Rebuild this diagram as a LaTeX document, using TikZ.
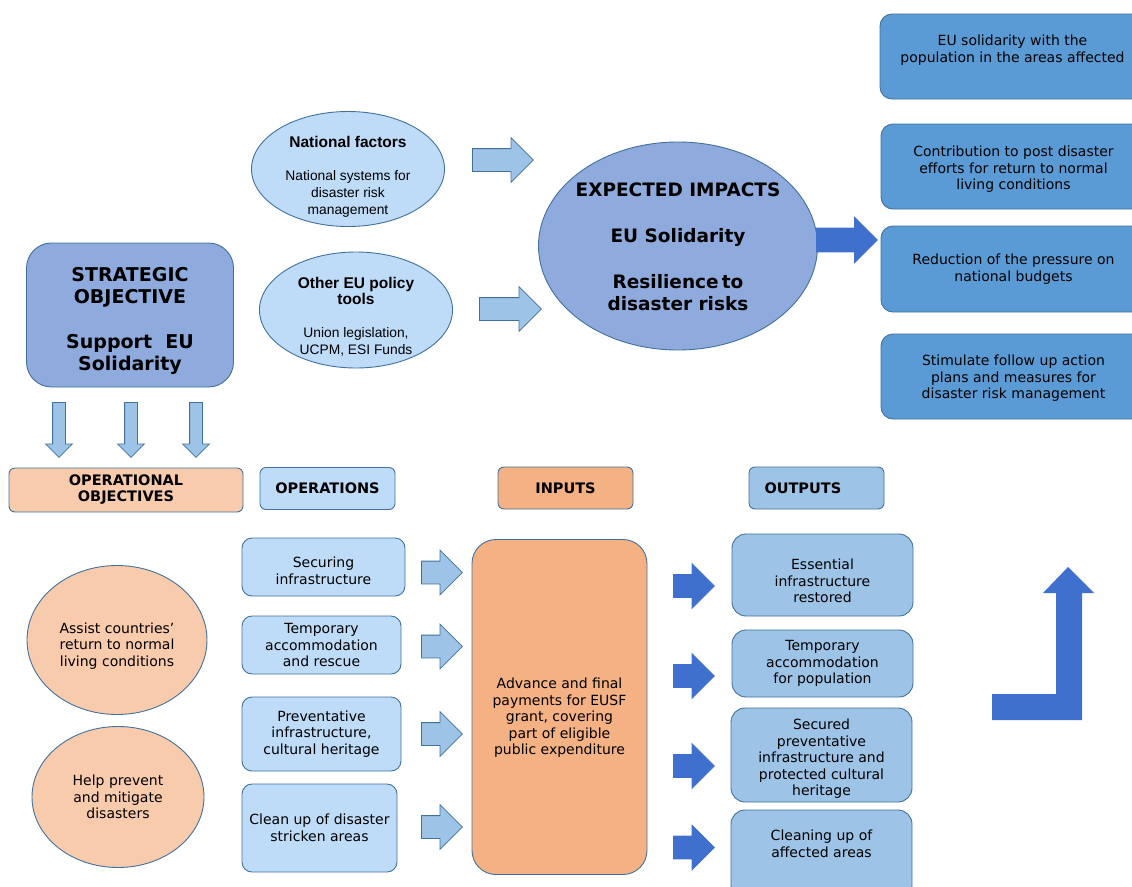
\documentclass[tikz,border=0pt]{standalone}
\usepackage{fontspec}
\setmainfont{DejaVu Sans}
\newfontfamily\arialfont{Liberation Sans}
\usetikzlibrary{shapes.geometric,shapes.arrows,positioning}
\definecolor{edgeblue}{RGB}{65,113,156}
\definecolor{stratblue}{RGB}{143,170,220}
\definecolor{paleblue}{RGB}{190,220,248}
\definecolor{arrowlight}{RGB}{157,195,230}
\definecolor{outblue}{RGB}{157,195,230}
\definecolor{impactbox}{RGB}{91,155,213}
\definecolor{darkarrow}{RGB}{64,112,206}
\definecolor{peach}{RGB}{248,203,173}
\definecolor{inputorange}{RGB}{244,177,131}
\newcommand{\bodysize}{\fontsize{14}{16.5}\selectfont}
\newcommand{\headsize}{\fontsize{14.5}{16}\selectfont\bfseries}
\newcommand{\bigsize}{\fontsize{19}{22.5}\selectfont\bfseries}
\newcommand{\factorhead}[1]{{\fontsize{15.5}{17}\selectfont\bfseries #1}}
\tikzset{
  box/.style={draw=edgeblue, line width=0.9pt, align=center, inner sep=2pt, font=\bodysize},
  roundbox/.style={box, rounded corners=10pt},
  opsbox/.style={roundbox, fill=paleblue},
  outbox/.style={roundbox, rounded corners=14pt, fill=outblue},
  impbox/.style={roundbox, rounded corners=12pt, fill=impactbox, minimum width=265, minimum height=85},
  headbox/.style={box, rounded corners=6pt, font=\headsize, minimum width=135, minimum height=42},
  oval/.style={ellipse, box, inner sep=0pt},
  factortext/.style={align=center, inner sep=0pt, font=\arialfont\fontsize{13.8}{17}\selectfont},
  larrow/.style={single arrow, draw=edgeblue, fill=arrowlight, line width=0.8pt,
    inner xsep=0pt, inner ysep=11pt, single arrow head extend=11pt,
    single arrow tip angle=90, minimum width=0pt, anchor=tail},
  darrow/.style={larrow, draw=darkarrow, fill=darkarrow},
  downarrow/.style={larrow, rotate=-90, inner ysep=6pt, single arrow head extend=7pt, minimum height=55}
}
\begin{document}
\begin{tikzpicture}[x=1pt,y=-1pt]
\useasboundingbox (0,0) rectangle (1132,886);
\clip (0,0) rectangle (1132,886);

% strategic objective
\node[roundbox, rounded corners=25pt, fill=stratblue, font=\bigsize, minimum width=207, minimum height=144] (strat) at (130,315)
  {\\[3.5pt]STRATEGIC\\OBJECTIVE\\[22pt]Support~~EU\\Solidarity};
\node[downarrow] (down1) at (59,402) {};
\node[downarrow] (down2) at (131,402) {};
\node[downarrow] (down3) at (196,402) {};

% factors
\node[oval, fill=paleblue, minimum width=193, minimum height=115] (national) at (348,169) {};
\node[factortext] (nattext) at (348,177)
  {\factorhead{National factors}\\[16pt]National systems for\\disaster risk\\management};
\node[oval, fill=paleblue, minimum width=193, minimum height=116] (otherEU) at (356,310) {};
\node[factortext] (othtext) at (356,317)
  {\factorhead{Other EU policy}\\[-1pt]\factorhead{tools}\\[16pt]Union legislation,\\UCPM, ESI Funds};
\node[larrow, minimum height=61] (natarrow) at (472,160) {};
\node[larrow, minimum height=62] (otharrow) at (479,309) {};

% expected impacts
\node[oval, fill=stratblue, minimum width=279, minimum height=208] (impacts) at (678,246) {};
\node[align=center, inner sep=0pt, font=\fontsize{18.5}{22}\selectfont\bfseries] (imptext) at (678,247)
  {EXPECTED IMPACTS\\[24pt]EU Solidarity\\[24pt]Resilience\,to\\disaster risks};
\node[darrow, inner ysep=11.5pt, minimum height=61] (imparrow) at (816,240) {};

\node[impbox] (imp1) at (1012.5,56.5) {EU solidarity with the\\population in the areas affected\\[-1pt]};
\node[impbox, minimum height=85] (imp2) at (1013.5,166.5) {\\[0pt]Contribution to post disaster\\efforts for return to normal\\living conditions};
\node[impbox, minimum height=86] (imp3) at (1013.5,269) {Reduction of the pressure on\\national budgets};
\node[impbox] (imp4) at (1013.5,376.5) {\\[-2pt]Stimulate follow up action\\plans and measures for\\disaster risk management};

% column headers
\node[headbox, fill=peach, minimum width=234, minimum height=44] (opobj) at (126,490)
  {OPERATIONAL\\OBJECTIVES};
\node[headbox, fill=paleblue] (opshead) at (327.5,488.5) {OPERATIONS};
\node[headbox, fill=inputorange] (inhead) at (565.5,488) {INPUTS};
\node[headbox, fill=outblue, text width=122, align=left] (outhead) at (816.5,488) {\hspace*{9pt}OUTPUTS\\[-2pt]};

% operational objectives
\node[oval, fill=peach, minimum width=180, minimum height=149] (assist) at (117,640)
  {\\[6pt]Assist countries’\\return to normal\\living conditions};
\node[oval, fill=peach, minimum width=172, minimum height=141] (prevent) at (118,797)
  {Help prevent\\and mitigate\\disasters};

% operations
\node[opsbox, minimum width=163, minimum height=58] (ops1) at (323.5,567) {\\[2pt]Securing\\infrastructure};
\node[opsbox, minimum width=159, minimum height=58] (ops2) at (321.5,645) {Temporary\\accommodation\\and rescue};
\node[opsbox, minimum width=159, minimum height=74] (ops3) at (321.5,734) {Preventative\\infrastructure,\\cultural heritage};
\node[opsbox, minimum width=155, minimum height=88] (ops4) at (319.5,828) {Clean up of disaster\\stricken areas};

\node[larrow, minimum height=41] (oparr1) at (421,572.5) {};
\node[larrow, minimum height=41] (oparr2) at (421,646.5) {};
\node[larrow, minimum height=41] (oparr3) at (421,734) {};
\node[larrow, minimum height=41] (oparr4) at (421,827) {};

% inputs
\node[roundbox, rounded corners=24pt, fill=inputorange, minimum width=175, minimum height=335] (inputs) at (559.5,707)
  {\\[16pt]Advance and final\\payments for EUSF\\grant, covering\\part of eligible\\public expenditure};

\node[darrow, minimum height=41] (outarr1) at (673,586) {};
\node[darrow, minimum height=41] (outarr2) at (673,676) {};
\node[darrow, minimum height=41] (outarr3) at (673,766) {};
\node[darrow, minimum height=41] (outarr4) at (673,847.5) {};

% outputs
\node[outbox, minimum width=181, minimum height=82] (out1) at (822.5,575) {\\[6pt]Essential\\infrastructure\\restored};
\node[outbox, minimum width=181, minimum height=67] (out2) at (822.5,663.5) {Temporary\\accommodation\\for population};
\node[outbox, minimum width=181, minimum height=94] (out3) at (821.5,755) {\\[2pt]Secured\\preventative\\infrastructure and\\protected cultural\\heritage};
\node[outbox, minimum width=181, minimum height=90] (out4) at (821.5,855) {Cleaning up of\\affected areas\\[6pt]};

% feedback arrow
\fill[darkarrow] (992,694) -- (1056,694) -- (1056,593) -- (1043,593) -- (1068,567)
  -- (1094,593) -- (1082,593) -- (1082,720) -- (992,720) -- cycle;
\end{tikzpicture}
\end{document}
